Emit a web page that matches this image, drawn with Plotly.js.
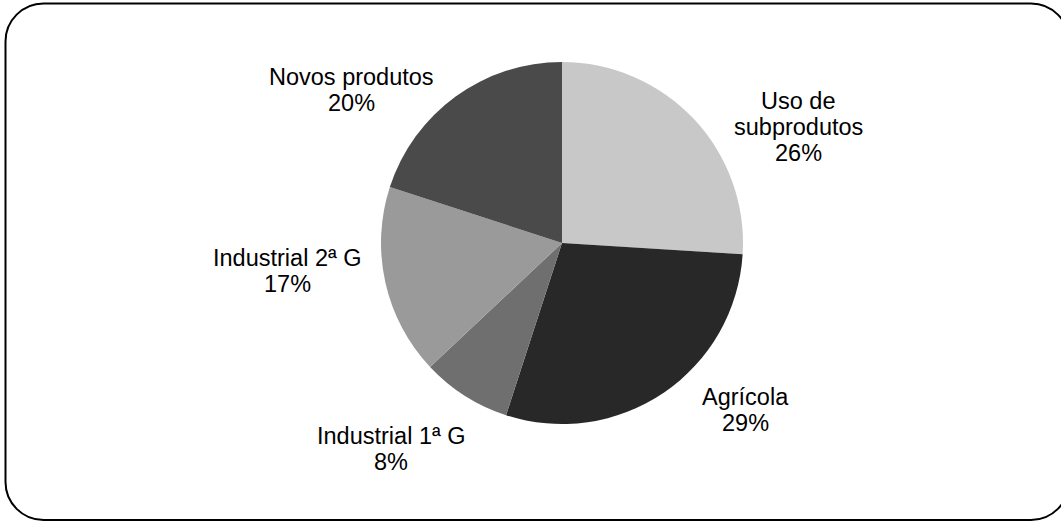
<!DOCTYPE html>
<html>
<head>
<meta charset="utf-8">
<script src="https://cdn.plot.ly/plotly-3.0.1.min.js"></script>
<style>
  html, body { margin: 0; padding: 0; background: #ffffff; }
  #chart { width: 1061px; height: 522px; }
</style>
</head>
<body>
<div id="chart"></div>
<script>
// Share of each area (percent)
const categories = ['Uso de subprodutos', 'Agrícola', 'Industrial 1ª G', 'Industrial 2ª G', 'Novos produtos'];
const shares = [26, 29, 8, 17, 20];
// How each category name is broken over lines in its label
const labelLines = [['Uso de', 'subprodutos'], ['Agrícola'], ['Industrial 1ª G'], ['Industrial 2ª G'], ['Novos produtos']];

const sliceColors = ['#c8c8c8', '#282828', '#6f6f6f', '#9a9a9a', '#4a4a4a'];

const W = 1061, H = 522;
const FONT = { family: 'Liberation Sans, Arial, sans-serif', size: 23.5, color: '#000000' };
const LINE_STEP = 26;
// Label anchor (horizontal centre, vertical middle of the block) in pixels
const labelAnchors = [[798, 127], [745, 409.5], [391, 449], [287, 271], [351, 90]];

// Pie placement in pixels
const cx = 562, cy = 243, r = 181;

const px = x => x / W;
const py = y => 1 - y / H;

// One annotation per text line, so the line spacing stays tight
const annotations = [];
categories.forEach((name, i) => {
  const lines = labelLines[i].concat([shares[i] + '%']);
  const [ax, ay] = labelAnchors[i];
  const y0 = ay - (lines.length - 1) * LINE_STEP / 2;
  lines.forEach((t, k) => {
    annotations.push({
      xref: 'paper', yref: 'paper',
      x: px(ax), y: py(y0 + k * LINE_STEP),
      xanchor: 'center', yanchor: 'middle',
      text: t, showarrow: false, font: FONT
    });
  });
});

// Rounded frame around the chart
function roundedRect(x0, y0, x1, y1, rad) {
  const k = 0.5523 * rad;
  const P = (x, y) => px(x) + ',' + py(y);
  return 'M' + P(x0 + rad, y0) +
    ' L' + P(x1 - rad, y0) +
    ' C' + P(x1 - rad + k, y0) + ' ' + P(x1, y0 + rad - k) + ' ' + P(x1, y0 + rad) +
    ' L' + P(x1, y1 - rad) +
    ' C' + P(x1, y1 - rad + k) + ' ' + P(x1 - rad + k, y1) + ' ' + P(x1 - rad, y1) +
    ' L' + P(x0 + rad, y1) +
    ' C' + P(x0 + rad - k, y1) + ' ' + P(x0, y1 - rad + k) + ' ' + P(x0, y1 - rad) +
    ' L' + P(x0, y0 + rad) +
    ' C' + P(x0, y0 + rad - k) + ' ' + P(x0 + rad - k, y0) + ' ' + P(x0 + rad, y0) + ' Z';
}

const trace = {
  type: 'pie',
  labels: categories,
  values: shares,
  sort: false,
  direction: 'clockwise',
  rotation: 0,
  textinfo: 'none',
  hoverinfo: 'label+percent',
  marker: { colors: sliceColors, line: { width: 0 } },
  domain: { x: [px(cx - r), px(cx + r)], y: [py(cy + r), py(cy - r)] }
};

const layout = {
  width: W, height: H,
  margin: { l: 0, r: 0, t: 0, b: 0 },
  paper_bgcolor: '#ffffff',
  showlegend: false,
  annotations: annotations,
  shapes: [{
    type: 'path', xref: 'paper', yref: 'paper',
    path: roundedRect(5.5, 3.5, 1069, 520, 38),
    line: { color: '#000000', width: 2 },
    fillcolor: 'rgba(0,0,0,0)'
  }]
};

Plotly.newPlot('chart', [trace], layout, { staticPlot: true });
</script>
</body>
</html>
